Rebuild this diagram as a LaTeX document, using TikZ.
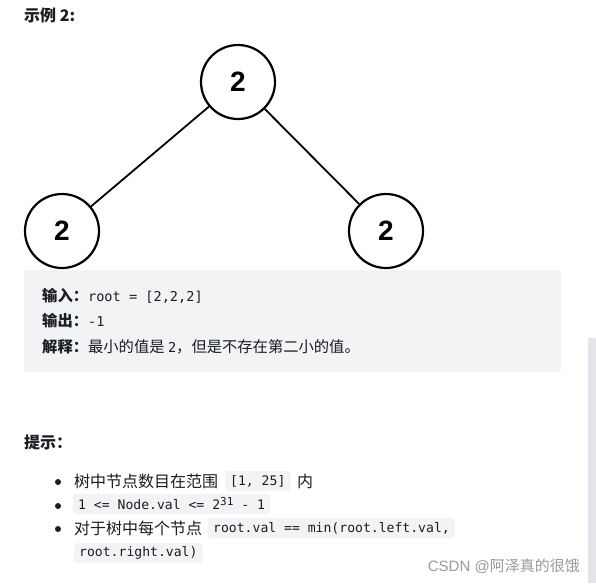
\documentclass[tikz,border=0pt]{standalone}
\usepackage{fontspec}
\setmainfont{Noto Sans CJK SC}
\setmonofont{DejaVu Sans Mono}
\newfontfamily\arial{Liberation Sans}
\definecolor{ink}{HTML}{1A1D22}
\definecolor{boxgray}{HTML}{F2F3F5}
\definecolor{codegray}{HTML}{F2F3F5}
\definecolor{bargray}{HTML}{E4E5EA}
\definecolor{wm}{HTML}{9A9A9A}
\tikzset{
  tnode/.style={draw=black, line width=2.2pt, circle, minimum size=74pt, inner sep=0pt,
    font=\arial\bfseries\fontsize{28}{30}\selectfont},
  edge/.style={draw=black, line width=1.8pt},
  txt/.style={anchor=west, inner sep=0pt, text=ink},
  boxtxt/.style={txt, font=\fontsize{15.3}{18}\selectfont},
  hinttxt/.style={txt, font=\fontsize{16}{19}\selectfont},
  code/.style={anchor=west, fill=codegray, rounded corners=3pt, inner xsep=5pt, inner ysep=0pt,
    minimum height=20pt, text=ink, font=\ttfamily\fontsize{13.1}{15}\selectfont},
  bulletdot/.style={circle, fill=ink, inner sep=0pt, minimum size=6pt}
}
\newcommand{\boxmono}[1]{{\ttfamily\fontsize{13.6}{16}\selectfont #1}}
\begin{document}
\begin{tikzpicture}[x=1pt,y=-1pt]
\useasboundingbox (0,0) rectangle (596,583);
\fill[white] (0,0) rectangle (596,583);
% title
\node[txt, font=\bfseries\fontsize{16}{19}\selectfont] (title) at (24,15) {示例 2:};
% tree
\node[tnode] (root) at (238,82) {2};
\node[tnode] (left) at (62,231) {2};
\node[tnode] (right) at (386,231) {2};
\draw[edge] (root) -- (left);
\draw[edge] (root) -- (right);
% example box
\fill[boxgray, rounded corners=3pt] (24,270) rectangle (561,372);
\node[boxtxt] (l1) at (42,296) {\textbf{输入：}\boxmono{root = [2,2,2]}};
\node[boxtxt] (l2) at (42,321) {\textbf{输出：}\boxmono{-1}};
\node[boxtxt] (l3) at (42,347) {\textbf{解释：}最小的值是 \boxmono{2}，但是不存在第二小的值。};
% right bar
\fill[bargray] (588,338) rectangle (596,583);
% hints
\node[txt, font=\bfseries\fontsize{16}{19}\selectfont] (hint) at (24,442) {提示：};
\node[bulletdot] (b1) at (58,482) {};
\node[bulletdot] (b2) at (58,506) {};
\node[bulletdot] (b3) at (58,529) {};
\node[hinttxt] (h1a) at (74,481) {树中节点数目在范围};
\node[code] (h1b) at (225,481) {[1, 25]};
\node[hinttxt] (h1c) at (297,481) {内};
\node[code] (h2) at (73,504) {1 <= Node.val <= 2\raisebox{4pt}{\fontsize{11}{12}\selectfont 31} - 1};
\node[hinttxt] (h3a) at (74,528) {对于树中每个节点};
\node[code, minimum width=245pt] (h3b) at (208,528) {root.val == min(root.left.val,};
\node[code] (h4) at (74,553) {root.right.val)};
% watermark
\node[anchor=east, inner sep=0pt, text=wm, font=\fontsize{15}{18}\selectfont] (wmk) at (580,566) {{\arial CSDN @}阿泽真的很饿};
\end{tikzpicture}
\end{document}
